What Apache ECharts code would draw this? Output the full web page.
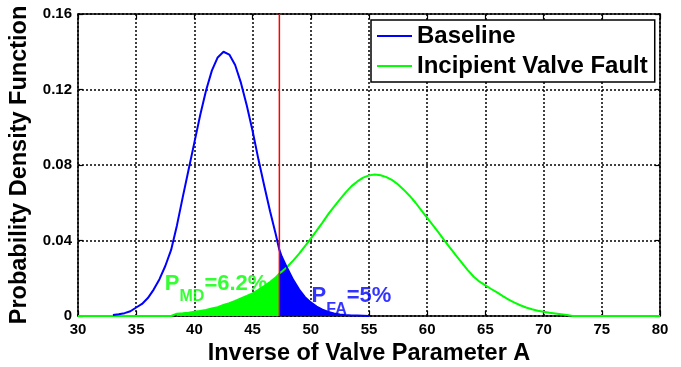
<!DOCTYPE html>
<html>
<head>
<meta charset="utf-8">
<script src="https://cdn.jsdelivr.net/npm/echarts@6/dist/echarts.min.js"></script>
<style>
  html, body { margin: 0; padding: 0; background: #fff; }
  #chart { width: 681px; height: 367px; }
</style>
</head>
<body>
<div id="chart"></div>
<script>
// baseline PDF
var baselineX = [33, 33.5, 34, 34.5, 35, 35.5, 36, 36.5, 37, 37.5, 38, 38.5, 39, 39.5, 40, 40.5, 41, 41.5, 42, 42.5,
  43, 43.5, 44, 44.5, 45, 45.5, 46, 46.5, 47, 47.3, 47.5, 48, 48.5, 49, 49.5, 50, 50.5, 51, 51.5, 52, 52.5, 53, 53.5, 54, 54.5, 55];
var baselineY = [0.0005, 0.0009, 0.0015, 0.0025, 0.0045, 0.0064, 0.0095, 0.0140, 0.0195, 0.0265, 0.0350, 0.0480, 0.0630, 0.0775, 0.0920, 0.1065, 0.1195, 0.1300, 0.1370, 0.1400,
  0.1385, 0.1330, 0.1235, 0.1115, 0.0980, 0.0830, 0.0690, 0.0555, 0.0430, 0.0350, 0.0315, 0.0250, 0.0190, 0.0140, 0.0100, 0.0072, 0.0050, 0.0034, 0.0021, 0.0013, 0.0008, 0.0005, 0.0003, 0.0002, 0.0001, 0];

// incipient valve fault PDF
var faultX = [30, 35, 38, 38.5, 39, 39.5, 40, 40.5, 41, 41.5, 42, 42.5, 43, 43.5, 44, 44.5, 45, 45.5, 46, 46.5, 47, 47.3,
  47.5, 48, 48.5, 49, 49.5, 50, 50.5, 51, 51.5, 52, 52.5, 53, 53.5, 54, 54.5, 55, 55.5, 56, 56.5, 57, 57.5, 58, 58.5, 59, 59.5,
  60, 60.5, 61, 61.5, 62, 62.5, 63, 63.5, 64, 64.5, 65, 65.5, 66, 66.5, 67, 67.5, 68, 68.5, 69, 69.5, 70, 70.5, 71, 71.5, 72, 72.5, 76, 80];
var faultY = [0, 0, 0, 0.0012, 0.0014, 0.0017, 0.0022, 0.0027, 0.0032, 0.0040, 0.0047, 0.0058, 0.0068, 0.0080, 0.0093, 0.0106, 0.0120, 0.0138, 0.0158, 0.0180, 0.0205, 0.0225,
  0.0235, 0.0262, 0.0295, 0.0330, 0.0370, 0.0410, 0.0452, 0.0495, 0.0540, 0.0580, 0.0618, 0.0655, 0.0688, 0.0713, 0.0733, 0.0745, 0.0750, 0.0746, 0.0736, 0.0720, 0.0697, 0.0668, 0.0636, 0.0600, 0.0560,
  0.0520, 0.0480, 0.0440, 0.0398, 0.0358, 0.0318, 0.0280, 0.0242, 0.0208, 0.0182, 0.0162, 0.0143, 0.0125, 0.0105, 0.0087, 0.0071, 0.0057, 0.0045, 0.0036, 0.0028, 0.0022, 0.0017, 0.0013, 0.0009, 0.0005, 0, 0, 0];

// detection threshold
var threshold = 47.3;

var seriesNames = ['Baseline', 'Incipient Valve Fault'];
var pmdText = ['P', 'MD', '=6.2%'];
var pfaText = ['P', 'FA', '=5%'];

function zip(xs, ys) {
  return xs.map(function (x, i) { return [x, ys[i]]; });
}

var baseline = zip(baselineX, baselineY);
var fault = zip(faultX, faultY);
// false alarm region: baseline right of threshold
var faRegion = baseline.filter(function (p) { return p[0] >= threshold; });
// missed detection region: fault left of threshold
var mdRegion = fault.filter(function (p) { return p[0] <= threshold && p[0] >= 38.5; });

var FONT = 'Liberation Sans, Arial, sans-serif';
var BLUE = '#0000ff', GREEN = '#00ff00', RED = '#ff0000';

var chart = echarts.init(document.getElementById('chart'));

function axisCommon(min, max, interval) {
  return {
    type: 'value',
    min: min,
    max: max,
    interval: interval,
    axisLine: {show: true, onZero: false, lineStyle: {color: '#000', width: 1.5}},
    axisTick: {show: true, inside: true, length: 5, lineStyle: {color: '#000', width: 1.2}},
  };
}

// P with a subscript, then the rest of the text
function subLabel(parts, color) {
  return {
    show: true,
    position: [0, 0],
    align: 'left',
    verticalAlign: 'top',
    formatter: '{p|' + parts[0] + '}{s|' + parts[1] + '}{p|' + parts[2] + '}',
    rich: {
      p: {fontFamily: FONT, fontWeight: 'bold', fontSize: 22, color: color, lineHeight: 22, verticalAlign: 'top'},
      s: {fontFamily: FONT, fontWeight: 'bold', fontSize: 16, color: color, lineHeight: 49, verticalAlign: 'middle'}
    }
  };
}

chart.setOption({
  animation: false,
  backgroundColor: '#fff',
  grid: {left: 78, right: 21, top: 14, bottom: 51, outerBoundsMode: 'none'},
  legend: {
    data: seriesNames,
    orient: 'vertical',
    left: 371,
    top: 20,
    padding: [4, 7, 4, 6],
    itemGap: 6,
    itemWidth: 35,
    itemHeight: 2,
    icon: 'rect',
    backgroundColor: '#fff',
    borderColor: '#000',
    borderWidth: 1.5,
    borderRadius: 0,
    textStyle: {fontFamily: FONT, fontWeight: 'bold', fontSize: 24, color: '#000', lineHeight: 24}
  },
  xAxis: [
    Object.assign(axisCommon(30, 80, 5), {
      position: 'bottom',
      name: 'Inverse of Valve Parameter A',
      nameLocation: 'middle',
      nameGap: 25,
      nameTextStyle: {fontFamily: FONT, fontWeight: 'bold', fontSize: 23.5, color: '#000'},
      axisLabel: {fontFamily: FONT, fontWeight: 'bold', fontSize: 15, color: '#000', margin: 6},
      splitLine: {show: true, lineStyle: {color: '#000', width: 1.5, type: [2, 2]}}
    }),
    Object.assign(axisCommon(30, 80, 5), {
      position: 'top',
      axisLabel: {show: false},
      splitLine: {show: false}
    })
  ],
  yAxis: [
    Object.assign(axisCommon(0, 0.16, 0.04), {
      position: 'left',
      name: 'Probability Density Function',
      nameLocation: 'middle',
      nameGap: 45,
      nameTextStyle: {fontFamily: FONT, fontWeight: 'bold', fontSize: 23.5, color: '#000'},
      axisLabel: {fontFamily: FONT, fontWeight: 'bold', fontSize: 15, color: '#000', margin: 6},
      splitLine: {show: true, lineStyle: {color: '#000', width: 1.5, type: [2, 2]}}
    }),
    Object.assign(axisCommon(0, 0.16, 0.04), {
      position: 'right',
      axisLabel: {show: false},
      splitLine: {show: false}
    })
  ],
  series: [
    {
      name: 'md-fill',
      type: 'line',
      data: mdRegion,
      showSymbol: false,
      lineStyle: {width: 0},
      itemStyle: {color: GREEN},
      areaStyle: {color: GREEN, opacity: 1},
      z: 2
    },
    {
      name: 'fa-fill',
      type: 'line',
      data: faRegion,
      showSymbol: false,
      lineStyle: {width: 0},
      itemStyle: {color: BLUE},
      areaStyle: {color: BLUE, opacity: 1},
      z: 2
    },
    {
      name: seriesNames[1],
      type: 'line',
      data: fault,
      showSymbol: false,
      lineStyle: {color: GREEN, width: 2},
      itemStyle: {color: GREEN},
      z: 3
    },
    {
      name: seriesNames[0],
      type: 'line',
      data: baseline,
      showSymbol: false,
      lineStyle: {color: BLUE, width: 2},
      itemStyle: {color: BLUE},
      z: 4
    },
    {
      name: 'threshold',
      type: 'line',
      data: [[threshold, 0], [threshold, 0.16]],
      showSymbol: false,
      lineStyle: {color: RED, width: 1.5},
      itemStyle: {color: RED},
      z: 5
    },
    {
      name: 'labels',
      type: 'scatter',
      symbolSize: 0,
      silent: true,
      z: 6,
      data: [
        {value: [37.46, 0.0230], label: subLabel(pmdText, GREEN)},
        {value: [50.07, 0.0165], label: subLabel(pfaText, BLUE)}
      ]
    }
  ]
});
</script>
</body>
</html>
